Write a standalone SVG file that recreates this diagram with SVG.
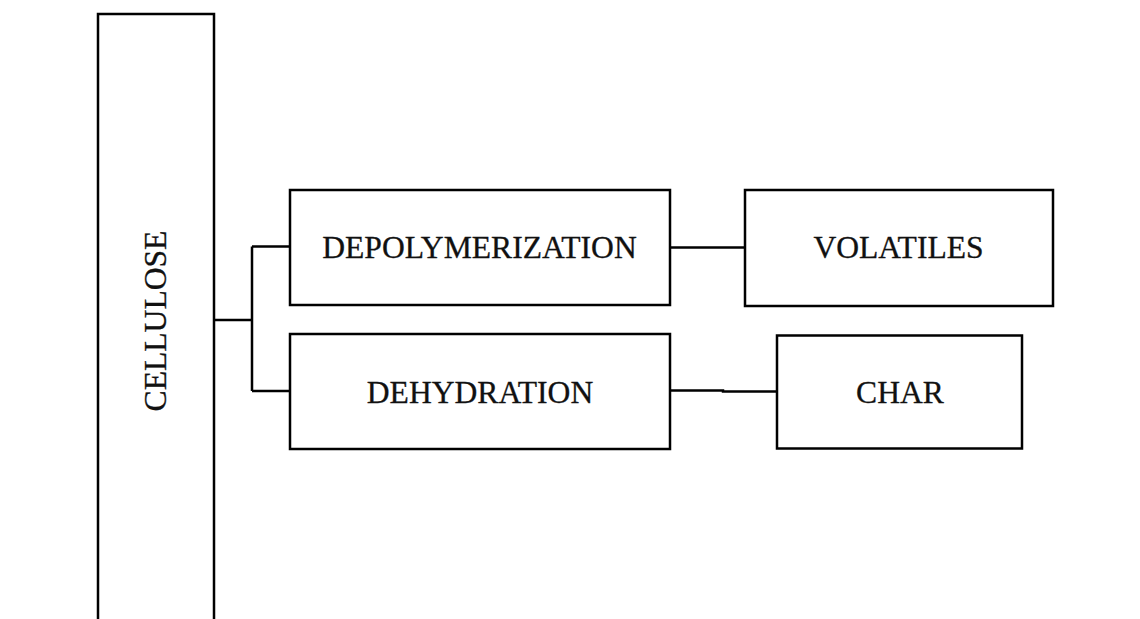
<svg xmlns="http://www.w3.org/2000/svg" width="1140" height="619" viewBox="0 0 1140 619">
<style>
.box{fill:#fff;stroke:#000;stroke-width:2.5}
.lbl{font-family:"Liberation Serif","Times New Roman",serif;font-size:31.6px;fill:#111;stroke:#111;stroke-width:0.3;text-anchor:middle}
.con{fill:none;stroke:#000;stroke-width:2.5}
</style>
<rect width="1140" height="619" fill="#fff"/>
<g id="connectors">
<path class="con" d="M214,320 H252 M252,246.5 V391 M252,246.5 H290 M252,391 H290"/>
<path class="con" d="M670,247.5 H745"/>
<path class="con" d="M670,390.5 H723 V391.5 H777"/>
</g>
<g id="cellulose">
<rect class="box" x="98" y="14" width="116" height="640"/>
<text class="lbl" transform="translate(166,321) rotate(-90)">CELLULOSE</text>
</g>
<g id="depolymerization">
<rect class="box" x="290" y="190" width="380" height="115"/>
<text class="lbl" x="479.5" y="257.5">DEPOLYMERIZATION</text>
</g>
<g id="dehydration">
<rect class="box" x="290" y="334" width="380" height="115"/>
<text class="lbl" x="480" y="402.5">DEHYDRATION</text>
</g>
<g id="volatiles">
<rect class="box" x="745" y="190" width="308" height="116"/>
<text class="lbl" x="898.5" y="257.5">VOLATILES</text>
</g>
<g id="char">
<rect class="box" x="777" y="335.5" width="245" height="113"/>
<text class="lbl" x="900" y="402.5">CHAR</text>
</g>
</svg>
